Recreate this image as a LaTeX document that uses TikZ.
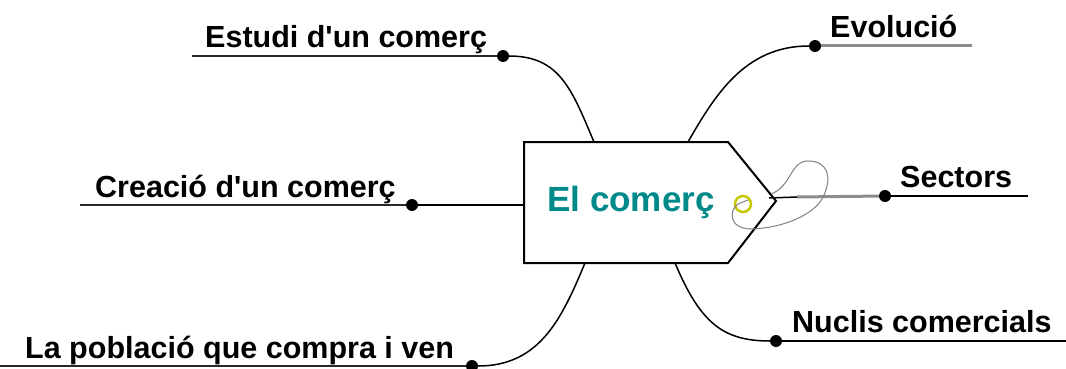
\documentclass[tikz,border=0pt]{standalone}
\usepackage{fontspec}
\setmainfont{Liberation Sans}
\definecolor{teal2}{RGB}{0,137,137}
\definecolor{ringy}{RGB}{200,200,0}
\definecolor{greyline}{RGB}{140,140,140}
\definecolor{dark}{RGB}{40,40,40}
\begin{document}
\begin{tikzpicture}[x=1pt,y=-1pt,
  lbl/.style={anchor=base west,inner sep=0pt,font=\bfseries\fontsize{30.5}{36}\selectfont},
  dotn/.style={circle,fill=black,inner sep=0pt,minimum size=12pt},
  uline/.style={draw=dark,line width=2pt},
  gline/.style={draw=greyline,line width=3pt},
  conn/.style={draw=black,line width=1.5pt},
  tagline/.style={draw=black,line width=2pt,fill=white,line join=miter}]
\useasboundingbox (0,0) rectangle (1066,369);
% central tag
\coordinate (tNW) at (524,142);
\coordinate (tNE) at (728,142);
\coordinate (tE) at (776,201);
\coordinate (tSE) at (728,263);
\coordinate (tSW) at (524,263);
\coordinate (tW) at (524,205);
\coordinate (tT1) at (594,142);
\coordinate (tT2) at (688,142);
\coordinate (tB1) at (585,263);
\coordinate (tB2) at (675,263);
\coordinate (tIn) at (769,198);
\coordinate (sMid) at (797,197);
% labels and dots
\node[lbl] (l1) at (205,48) {Estudi d\textquotesingle un comerç};
\node[dotn] (d1) at (503,56) {};
\coordinate (u1) at (192,56);
\node[lbl] (l2) at (830,38) {Evolució};
\node[dotn] (d2) at (815,46) {};
\coordinate (u2) at (972,46);
\node[lbl] (l3) at (95,197) {Creació d\textquotesingle un comerç};
\node[dotn] (d3) at (412,205) {};
\coordinate (u3) at (80,205);
\node[lbl] (l4) at (900,187) {Sectors};
\node[dotn] (d4) at (885,196) {};
\coordinate (u4) at (1028,196);
\node[lbl] (l5) at (25,358) {La població que compra i ven};
\node[dotn] (d5) at (472,366) {};
\coordinate (u5) at (0,366);
\node[lbl] (l6) at (792,332) {Nuclis comercials};
\node[dotn] (d6) at (776,341) {};
\coordinate (u6) at (1066,341);
% underlines
\draw[uline] (u1) -- (d1);
\draw[gline] (d2) -- (u2);
\draw[uline] (u3) -- (d3);
\draw[draw=black,line width=2pt] (d4) -- (u4);
\draw[uline] (u5) -- (d5);
\draw[draw=black,line width=2pt] (d6) -- (u6);
% connectors
\draw[conn] (d1) .. controls (560,56) and (572,90) .. (tT1);
\draw[conn] (tT2) .. controls (715,95) and (745,46) .. (d2);
\draw[conn] (d3) -- (tW);
\draw[conn] (tB1) .. controls (562,318) and (540,366) .. (d5);
\draw[conn] (tB2) .. controls (700,322) and (722,341) .. (d6);
\draw[gline] (sMid) -- (d4);
% tag shape
\draw[tagline] (tNW) -- (tNE) -- (tE) -- (tSE) -- (tSW) -- cycle;
\draw[conn] (tIn) -- (sMid);
\node[anchor=base,inner sep=0pt,text=teal2,font=\bfseries\fontsize{35}{40}\selectfont] (c) at (631,211) {El comerç};
% hole and string
\node[circle,draw=ringy,line width=2.5pt,minimum size=16pt,inner sep=0pt] (hole) at (743,204) {};
\draw[draw=gray,line width=1pt] (748,200) -- (738,204) .. controls (729,210) and (728,229) .. (752,229)
  .. controls (782,228) and (816,215) .. (824,195) .. controls (832,177) and (828,161) .. (808,161)
  .. controls (790,161) and (792,186) .. (771,194);
\end{tikzpicture}
\end{document}
